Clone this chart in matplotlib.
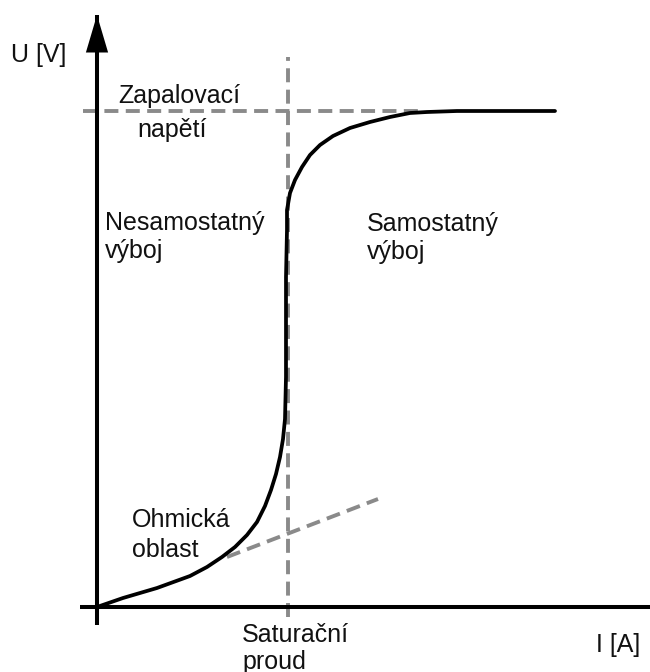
import matplotlib
matplotlib.use("Agg")
import matplotlib.pyplot as plt
from matplotlib.patches import ArrowStyle

plt.rcParams['font.family'] = ['Liberation Sans', 'DejaVu Sans']

# characteristic curve U(I) (arbitrary units, origin at the axes crossing)
curve_i = [0, 26, 60, 93, 110, 125, 138, 150, 160, 168, 174, 179, 183, 186, 188, 189, 189,
           190, 190, 193, 198, 205, 213, 223, 236, 253, 273, 293, 313, 330, 360, 458]
curve_u = [0, 9, 19, 31, 40, 50, 60, 72, 85, 101, 117, 133, 150, 168, 188, 230, 330,
           377, 397, 414, 427, 440, 452, 462, 471, 479, 485, 490, 494, 495, 496, 496]

# helper lines
ignition_u = 496          # Zapalovaci napeti
ignition_i = [-14, 323]
saturation_i = 191        # Saturacni proud
saturation_u = [-10, 550]
ohmic_i = [130, 281]
ohmic_u = [50, 108]

# axes extents
x_axis = [-17, 555]
y_axis = [-18, 592]

# labels: (text, I, U)
labels = [
    ("U [V]", -86, 545),
    ("Zapalovací", 21, 504),
    ("napětí", 40, 470),
    ("Nesamostatný", 8, 377),
    ("výboj", 8, 349),
    ("Samostatný", 270, 376),
    ("výboj", 270, 348),
    ("Ohmická", 35, 80),
    ("oblast", 35, 50),
    ("Saturační", 145, -35),
    ("proud", 145, -62),
    ("I [A]", 499, -45),
]

fig = plt.figure(figsize=(6.5, 6.72), dpi=100)
ax = fig.add_axes([0, 0, 1, 1])
ax.set_xlim(-97, 553)
ax.set_ylim(-65, 607)
ax.axis('off')

grey = '#8a8a8a'
dash = (0, (3.6, 1.9))
ax.plot(ignition_i, [ignition_u, ignition_u], color=grey, lw=2.8, linestyle=dash)
ax.plot([saturation_i, saturation_i], saturation_u, color=grey, lw=2.8, linestyle=dash)
ax.plot(ohmic_i, ohmic_u, color=grey, lw=2.8, linestyle=dash)

# axes with arrow heads
ax.plot(x_axis, [0, 0], color='black', lw=2.9, solid_capstyle='butt')
ax.plot([0, 0], y_axis, color='black', lw=2.9, solid_capstyle='butt')
head = ArrowStyle('-|>', head_length=1.35, head_width=0.4)
ax.annotate('', xy=(x_axis[1] + 10, 0), xytext=(x_axis[1] - 40, 0),
            arrowprops=dict(arrowstyle=head, color='black', lw=0, mutation_scale=20,
                            shrinkA=0, shrinkB=0))
ax.annotate('', xy=(0, y_axis[1]), xytext=(0, y_axis[1] - 50),
            arrowprops=dict(arrowstyle=head, color='black', lw=0, mutation_scale=20,
                            shrinkA=0, shrinkB=0))

ax.plot(curve_i, curve_u, color='black', lw=2.7, solid_capstyle='round',
        solid_joinstyle='round')

for txt, x, y in labels:
    ax.text(x, y, txt, fontsize=18, ha='left', va='baseline', color='#111111')

fig.savefig('out.png', dpi=100)
